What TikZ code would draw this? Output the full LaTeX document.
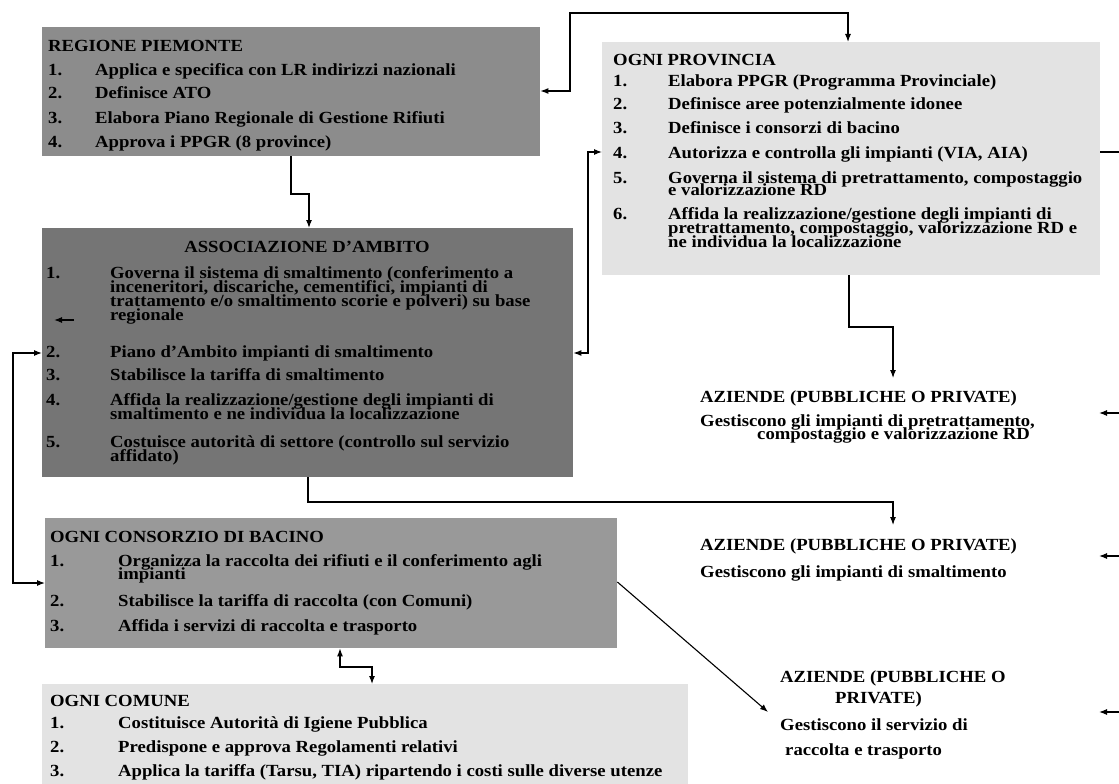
\documentclass[tikz,border=0pt]{standalone}
\usepackage{fontspec}
\setmainfont[FakeStretch=1.1]{Liberation Serif}
\usetikzlibrary{arrows.meta,calc}
\definecolor{boxdark}{gray}{0.55}
\definecolor{boxdarker}{gray}{0.46}
\definecolor{boxmid}{gray}{0.60}
\definecolor{boxlight}{gray}{0.89}
\newcommand{\nb}[2][47pt]{\makebox[#1][l]{#2}}
\begin{document}
\begin{tikzpicture}[x=1pt,y=-1pt,
  panel/.style={rectangle, draw=none, inner sep=0pt, anchor=north west},
  txt/.style={anchor=base west, inner sep=0pt, font=\fontsize{17}{17}\selectfont\bfseries},
  ctxt/.style={txt, anchor=base},
  wire/.style={line width=1.1pt},
  conn/.style={wire, -{Latex[length=8pt,width=6pt]}},
  dconn/.style={wire, {Latex[length=8pt,width=6pt]}-{Latex[length=8pt,width=6pt]}}]
\useasboundingbox (0,0) rectangle (1119,784);
\fill[white] (0,0) rectangle (1119,784);

% panels
\node[panel, fill=boxdark, minimum width=498pt, minimum height=129pt] (reg) at (42,27) {};
\node[panel, fill=boxlight, minimum width=498pt, minimum height=233pt] (prov) at (602,42) {};
\node[panel, fill=boxdarker, minimum width=531pt, minimum height=249pt] (assoc) at (42,228) {};
\node[panel, fill=boxmid, minimum width=572pt, minimum height=130pt] (cons) at (45,518) {};
\node[panel, fill=boxlight, minimum width=646pt, minimum height=100pt] (com) at (42,684) {};

% Regione
\node[txt] (r0) at (48,52) {REGIONE PIEMONTE};
\node[txt] (r1) at (48,75) {\nb{1.}Applica e specifica con LR indirizzi nazionali};
\node[txt] (r2) at (48,99) {\nb{2.}Definisce ATO};
\node[txt] (r3) at (48,123) {\nb{3.}Elabora Piano Regionale di Gestione Rifiuti};
\node[txt] (r4) at (48,147) {\nb{4.}Approva i PPGR (8 province)};

% Provincia
\node[txt] (p0) at (613,66) {OGNI PROVINCIA};
\node[txt] (p1) at (613,87) {\nb[55pt]{1.}Elabora PPGR (Programma Provinciale)};
\node[txt] (p2) at (613,110) {\nb[55pt]{2.}Definisce aree potenzialmente idonee};
\node[txt] (p3) at (613,133) {\nb[55pt]{3.}Definisce i consorzi di bacino};
\node[txt] (p4) at (613,158) {\nb[55pt]{4.}Autorizza e controlla gli impianti (VIA, AIA)};
\node[txt] (p5) at (613,183) {\nb[55pt]{5.}Governa il sistema di pretrattamento, compostaggio};
\node[txt] (p5b) at (668,195) {e valorizzazione RD};
\node[txt] (p6) at (613,219) {\nb[55pt]{6.}Affida la realizzazione/gestione degli impianti di};
\node[txt] (p6b) at (668,233) {pretrattamento, compostaggio, valorizzazione RD e};
\node[txt] (p6c) at (668,247) {ne individua la localizzazione};

% Associazione
\node[ctxt] (a0) at (307,252) {ASSOCIAZIONE D'AMBITO};
\node[txt] (a1) at (46,278) {\nb[64pt]{1.}Governa il sistema di smaltimento (conferimento a};
\node[txt] (a1b) at (110,292) {inceneritori, discariche, cementifici, impianti di};
\node[txt] (a1c) at (110,306) {trattamento e/o smaltimento scorie e polveri) su base};
\node[txt] (a1d) at (110,320) {regionale};
\node[txt] (a2) at (46,357) {\nb[64pt]{2.}Piano d'Ambito impianti di smaltimento};
\node[txt] (a3) at (46,380) {\nb[64pt]{3.}Stabilisce la tariffa di smaltimento};
\node[txt] (a4) at (46,405) {\nb[64pt]{4.}Affida la realizzazione/gestione degli impianti di};
\node[txt] (a4b) at (110,419) {smaltimento e ne individua la localizzazione};
\node[txt] (a5) at (46,447) {\nb[64pt]{5.}Costuisce autorità di settore (controllo sul servizio};
\node[txt] (a5b) at (110,461) {affidato)};

% Consorzio
\node[txt] (c0) at (50,542) {OGNI CONSORZIO DI BACINO};
\node[txt] (c1) at (50,566) {\nb[68pt]{1.}Organizza la raccolta dei rifiuti e il conferimento agli};
\node[txt] (c1b) at (118,579) {impianti};
\node[txt] (c2) at (50,606) {\nb[68pt]{2.}Stabilisce la tariffa di raccolta (con Comuni)};
\node[txt] (c3) at (50,631) {\nb[68pt]{3.}Affida i servizi di raccolta e trasporto};

% Comune
\node[txt] (m0) at (50,706) {OGNI COMUNE};
\node[txt] (m1) at (50,728) {\nb[68pt]{1.}Costituisce Autorità di Igiene Pubblica};
\node[txt] (m2) at (50,752) {\nb[68pt]{2.}Predispone e approva Regolamenti relativi};
\node[txt] (m3) at (50,776) {\nb[68pt]{3.}Applica la tariffa (Tarsu, TIA) ripartendo i costi sulle diverse utenze};

% Aziende
\node[txt] (z1h) at (700,402) {AZIENDE (PUBBLICHE O PRIVATE)};
\node[txt] (z1a) at (700,426) {Gestiscono gli impianti di pretrattamento,};
\node[txt] (z1b) at (757,439) {compostaggio e valorizzazione RD};
\node[txt] (z2h) at (700,550) {AZIENDE (PUBBLICHE O PRIVATE)};
\node[txt] (z2a) at (700,577) {Gestiscono gli impianti di smaltimento};
\node[txt] (z3h) at (780,682) {AZIENDE (PUBBLICHE O};
\node[txt] (z3h2) at (835,703) {PRIVATE)};
\node[txt] (z3a) at (780,730) {Gestiscono il servizio di};
\node[txt] (z3b) at (785,755) {raccolta e trasporto};

% connectors
\draw[dconn] (reg.east |- 0,91) -- (570,91) -- (570,13) -- (848,13) -- (prov.north -| 848,0);
\draw[conn] (reg.south -| 291,0) -- (291,194) -- (309,194) -- (assoc.north -| 309,0);
\draw[dconn] (assoc.east |- 0,353) -- (588,353) -- (588,152) -- (prov.west |- 0,152);
\draw[dconn] (assoc.west |- 0,353) -- (13,353) -- (13,583) -- (cons.west |- 0,583);
\draw[conn, shorten >=12pt] (prov.south -| 849,0) -- (849,327) -- (893,327) -- (z1h.north -| 893,0);
\draw[conn, shorten >=13pt] (assoc.south -| 308,0) -- (308,502) -- (893,502) -- (z2h.north -| 893,0);
\coordinate (z3in) at (768,712);
\draw[conn] (cons.east |- 0,582) -- (z3in);
\draw[dconn] (cons.south -| 340,0) -- (340,667) -- (372,667) -- (com.north -| 372,0);

% stray arrow mark in Associazione
\coordinate (st1) at (74,320);
\coordinate (st2) at (54,320);
\draw[conn] (st1) -- (st2);

% stubs leaving the right edge
\coordinate (e0) at (1119,152);
\coordinate (e1) at (1119,413);
\coordinate (t1) at (1099,413);
\coordinate (e2) at (1119,556);
\coordinate (t2) at (1099,556);
\coordinate (e3) at (1119,712);
\coordinate (t3) at (1099,712);
\draw[wire] (prov.east |- e0) -- (e0);
\draw[conn] (e1) -- (t1);
\draw[conn] (e2) -- (t2);
\draw[conn] (e3) -- (t3);
\end{tikzpicture}
\end{document}
